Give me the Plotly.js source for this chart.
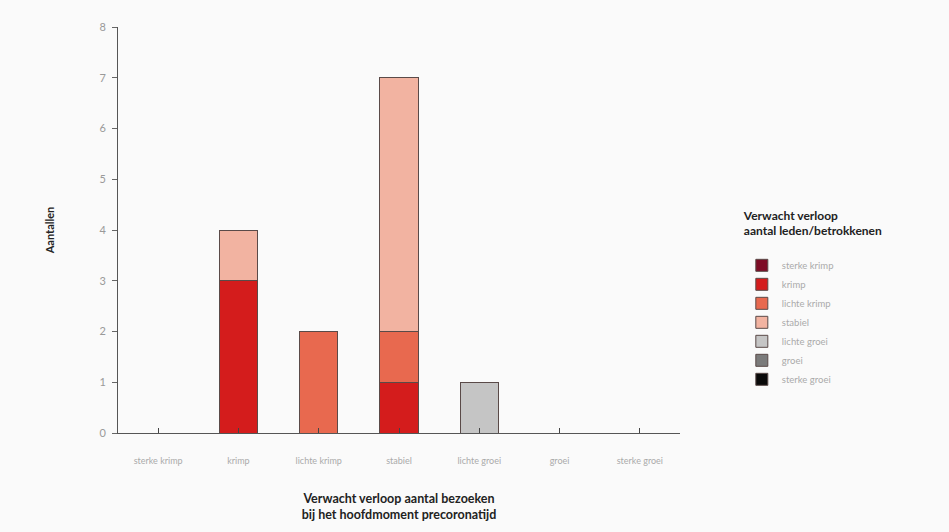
<!DOCTYPE html>
<html>
<head>
<meta charset="utf-8">
<script src="https://cdn.plot.ly/plotly-3.0.1.min.js"></script>
<style>
html,body{margin:0;padding:0;background:#fafafa;}
#chart{width:949px;height:532px;}
</style>
</head>
<body>
<div id="chart"></div>
<script>
// Categories on the x axis: expected course of visits
const categories = ["sterke krimp", "krimp", "lichte krimp", "stabiel", "lichte groei", "groei", "sterke groei"];
// Series: expected course of members/involved
const seriesNames = ["sterke krimp", "krimp", "lichte krimp", "stabiel", "lichte groei", "groei", "sterke groei"];
const sterkeKrimp = [0, 0, 0, 0, 0, 0, 0];
const krimp       = [0, 3, 0, 1, 0, 0, 0];
const lichteKrimp = [0, 0, 2, 1, 0, 0, 0];
const stabiel     = [0, 1, 0, 5, 0, 0, 0];
const lichteGroei = [0, 0, 0, 0, 1, 0, 0];
const groei       = [0, 0, 0, 0, 0, 0, 0];
const sterkeGroei = [0, 0, 0, 0, 0, 0, 0];
const yTicks = [0, 1, 2, 3, 4, 5, 6, 7, 8];

const seriesValues = [sterkeKrimp, krimp, lichteKrimp, stabiel, lichteGroei, groei, sterkeGroei];
const colors = ["#7d0b25", "#d41c1c", "#e8694f", "#f2b3a1", "#c5c5c5", "#7b7b7b", "#0a0a0a"];

const traces = seriesNames.map((name, i) => ({
  type: "bar",
  name: name,
  x: categories,
  y: seriesValues[i],
  marker: {color: colors[i], line: {color: "#5a4a48", width: 1}},
  hoverinfo: "x+y+name"
}));

const layout = {
  width: 949,
  height: 532,
  paper_bgcolor: "#fafafa",
  plot_bgcolor: "#fafafa",
  barmode: "stack",
  bargap: 0.52,
  margin: {l: 118, r: 269, t: 27, b: 99},
  font: {family: "Lato, 'DejaVu Sans', sans-serif", color: "#999"},
  xaxis: {
    range: [-0.5, 6.5],
    showline: true,
    linecolor: "#555",
    linewidth: 1,
    ticks: "inside",
    ticklen: 5,
    tickcolor: "#444",
    tickfont: {size: 9, color: "#aaa"},
    ticklabelstandoff: 19,
    showgrid: false,
    zeroline: false,
    fixedrange: true,
    title: {
      text: "Verwacht verloop aantal bezoeken<br>bij het hoofdmoment precoronatijd",
      font: {size: 12.5, color: "#222", family: "Lato, sans-serif", weight: "bold"},
      standoff: 29
    }
  },
  yaxis: {
    range: [0, 8],
    tickvals: yTicks,
    showline: true,
    linecolor: "#555",
    linewidth: 1,
    ticks: "outside",
    ticklen: 5,
    tickcolor: "#666",
    tickfont: {size: 11, color: "#999"},
    ticklabelstandoff: 4,
    showgrid: false,
    zeroline: false,
    fixedrange: true,
    title: {
      text: "Aantallen",
      font: {size: 11, color: "#222", family: "Lato, sans-serif", weight: "bold"},
      standoff: 42
    }
  },
  legend: {
    x: 1.11,
    xanchor: "left",
    y: 0.33,
    yanchor: "middle",
    bgcolor: "rgba(0,0,0,0)",
    font: {size: 9.5, color: "#aaa"},
    tracegroupgap: 0,
    itemwidth: 30,
    traceorder: "normal",
    title: {
      text: "Verwacht verloop<br>aantal leden/betrokkenen<br> ",
      font: {size: 12, color: "#222", family: "Lato, sans-serif", weight: "bold"}
    }
  },
  showlegend: true
};

Plotly.newPlot("chart", traces, layout, {displayModeBar: false, staticPlot: false});
</script>
</body>
</html>
